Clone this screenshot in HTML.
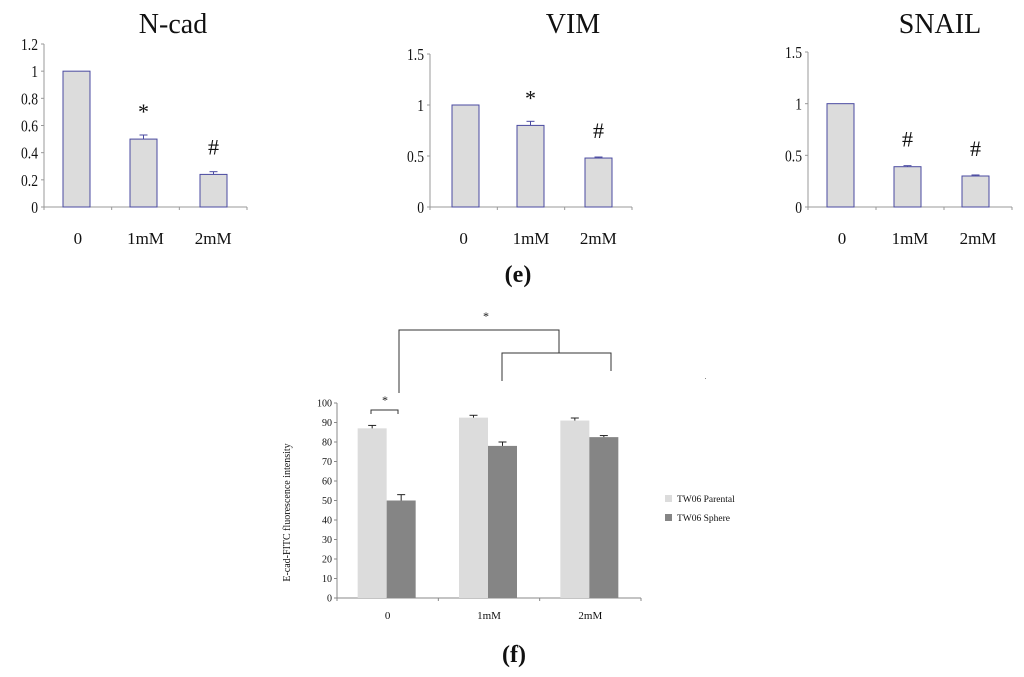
<!DOCTYPE html>
<html><head><meta charset="utf-8"><style>
body{margin:0;background:#fff;width:1024px;height:677px;overflow:hidden}
svg{display:block}
text{font-family:"Liberation Serif",serif;fill:#111}
</style></head><body>
<svg id="fig" width="1024" height="677" viewBox="0 0 1024 677"></svg>
<script>
const cats = ["0","1mM","2mM"];
const ncadVals = [1, 0.5, 0.24];
const ncadErr = [0, 0.03, 0.02];
const ncadMarks = ["", "*", "#"];
const ncadTicks = [0,0.2,0.4,0.6,0.8,1,1.2];
const vimVals = [1, 0.8, 0.48];
const vimErr = [0, 0.04, 0.01];
const vimMarks = ["", "*", "#"];
const snailVals = [1, 0.39, 0.3];
const snailErr = [0, 0.01, 0.01];
const snailMarks = ["", "#", "#"];
const halfTicks = [0,0.5,1,1.5];
const parentalVals = [87, 92.5, 91];
const parentalErr = [1.5, 1.2, 1.3];
const sphereVals = [50, 78, 82.5];
const sphereErr = [3, 2, 0.8];
const fTicks = [0,10,20,30,40,50,60,70,80,90,100];

const NS="http://www.w3.org/2000/svg";
const svg=document.getElementById('fig');
function el(tag,attrs,parent,txt){const e=document.createElementNS(NS,tag);for(const k in attrs)e.setAttribute(k,attrs[k]);if(txt!==undefined)e.textContent=txt;(parent||svg).appendChild(e);return e;}

function smallPanel(name,title,titleX,ax,axEnd,y0,yTop,maxV,ticks,tickFmt,vals,errs,marks,barX){
  const g=el('g',{});
  
  
  const ys=v=>y0-(v/maxV)*(y0-yTop);
  const t=el('text',{x:titleX,y:33,'font-size':28,'text-anchor':'middle'},g,title);
  
  el('line',{x1:ax,y1:yTop,x2:ax,y2:y0,stroke:'#999','stroke-width':1},g);
  el('line',{x1:ax-3,y1:y0,x2:axEnd,y2:y0,stroke:'#999','stroke-width':1},g);
  const step=(axEnd-ax)/3;
  for(let i=0;i<=3;i++)el('line',{x1:ax+i*step,y1:y0,x2:ax+i*step,y2:y0+3,stroke:'#999'},g);
  ticks.forEach(v=>{
    el('line',{x1:ax-3,y1:ys(v),x2:ax,y2:ys(v),stroke:'#999'},g);
    const tl=el('text',{x:ax-6,y:ys(v)+6,'font-size':17,'text-anchor':'end',transform:`translate(${ax-6},0) scale(0.8,1) translate(${-(ax-6)},0)`},g,tickFmt(v));
    
  });
  vals.forEach((v,i)=>{
    const x=barX[i],w=27,y=ys(v);
    const b=el('rect',{x:x,y:y,width:w,height:y0-y,fill:'#dcdcdc',stroke:'#4a4aa0','stroke-width':1},g);
    
    if(errs[i]>0){const ye=ys(v+errs[i]);el('line',{x1:x+w/2,y1:y,x2:x+w/2,y2:ye,stroke:'#4a4aa0'},g);el('line',{x1:x+w/2-4,y1:ye,x2:x+w/2+4,y2:ye,stroke:'#4a4aa0'},g);}
    if(marks[i]){const m=el('text',{x:x+w/2,y:ys(v)-20,'font-size':22,'text-anchor':'middle'},g,marks[i]);}
    const cl=el('text',{x:ax+step*(i+0.5),y:244,'font-size':17,'text-anchor':'middle'},g,cats[i]);
    
  });
}
smallPanel('ncad','N-cad',173,44,247,207,44,1.2,ncadTicks,v=>String(v),ncadVals,ncadErr,ncadMarks,[63,130,200]);
smallPanel('vim','VIM',573,430,632,207,54,1.5,halfTicks,v=>String(v),vimVals,vimErr,vimMarks,[452,517,585]);
smallPanel('snail','SNAIL',940,808,1012,207,52,1.5,halfTicks,v=>String(v),snailVals,snailErr,snailMarks,[827,894,962]);

const le=el('text',{x:518,y:282,'font-size':24,'text-anchor':'middle','font-weight':'bold'},svg,'(e)');


// panel f
const fg=el('g',{});


const fx0=337,fx1=641,fy0=598,fyTop=403;
const fy=v=>fy0-(v/100)*(fy0-fyTop);
el('line',{x1:fx0,y1:fyTop,x2:fx0,y2:fy0,stroke:'#888'},fg);
el('line',{x1:fx0-3,y1:fy0,x2:fx1,y2:fy0,stroke:'#888'},fg);
const fstep=(fx1-fx0)/3;
for(let i=0;i<=3;i++)el('line',{x1:fx0+i*fstep,y1:fy0,x2:fx0+i*fstep,y2:fy0+3,stroke:'#888'},fg);
fTicks.forEach(v=>{
  el('line',{x1:fx0-3,y1:fy(v),x2:fx0,y2:fy(v),stroke:'#888'},fg);
  const tl=el('text',{x:fx0-5,y:fy(v)+3.5,'font-size':10,'text-anchor':'end'},fg,String(v));
  
});
const yt=el('text',{x:0,y:0,'font-size':10,'text-anchor':'middle',transform:`translate(290,${(fy0+fyTop)/2+12}) rotate(-90)`},fg,'E-cad-FITC fluorescence intensity');

cats.forEach((c,i)=>{
  const cx=fx0+fstep*(i+0.5);
  const bw=29;
  const px=cx-30;
  [[parentalVals,parentalErr,'#dcdcdc','parental'],[sphereVals,sphereErr,'#858585','sphere']].forEach((s,j)=>{
    const x=px+j*bw,v=s[0][i],y=fy(v);
    const b=el('rect',{x:x,y:y,width:bw,height:fy0-y,fill:s[2]},fg);
    
    const ye=fy(v+s[1][i]);
    el('line',{x1:x+bw/2,y1:y,x2:x+bw/2,y2:ye,stroke:'#222'},fg);
    el('line',{x1:x+bw/2-4,y1:ye,x2:x+bw/2+4,y2:ye,stroke:'#222'},fg);
  });
  const cl=el('text',{x:cx,y:619,'font-size':11,'text-anchor':'middle'},fg,c);
  
});
// brackets
el('path',{d:'M399 393 V330 H559 V353',fill:'none',stroke:'#333'},fg);
el('path',{d:'M502 381 V353 H611 V371',fill:'none',stroke:'#333'},fg);
el('path',{d:'M371 414 V410 H398 V414',fill:'none',stroke:'#333'},fg);
const s1=el('text',{x:486,y:320,'font-size':12,'text-anchor':'middle'},fg,'*');
const s2=el('text',{x:385,y:404,'font-size':12,'text-anchor':'middle'},fg,'*');
el('rect',{x:705,y:378,width:1,height:1,fill:'#888'},fg);
// legend
const lg=el('g',{},fg);


el('rect',{x:665,y:495,width:7,height:7,fill:'#dcdcdc'},lg);
el('text',{x:677,y:502,'font-size':9.5},lg,'TW06 Parental');
el('rect',{x:665,y:514,width:7,height:7,fill:'#858585'},lg);
el('text',{x:677,y:521,'font-size':9.5},lg,'TW06 Sphere');
const lf=el('text',{x:514,y:662,'font-size':24,'text-anchor':'middle','font-weight':'bold'},svg,'(f)');

</script>
</body></html>
